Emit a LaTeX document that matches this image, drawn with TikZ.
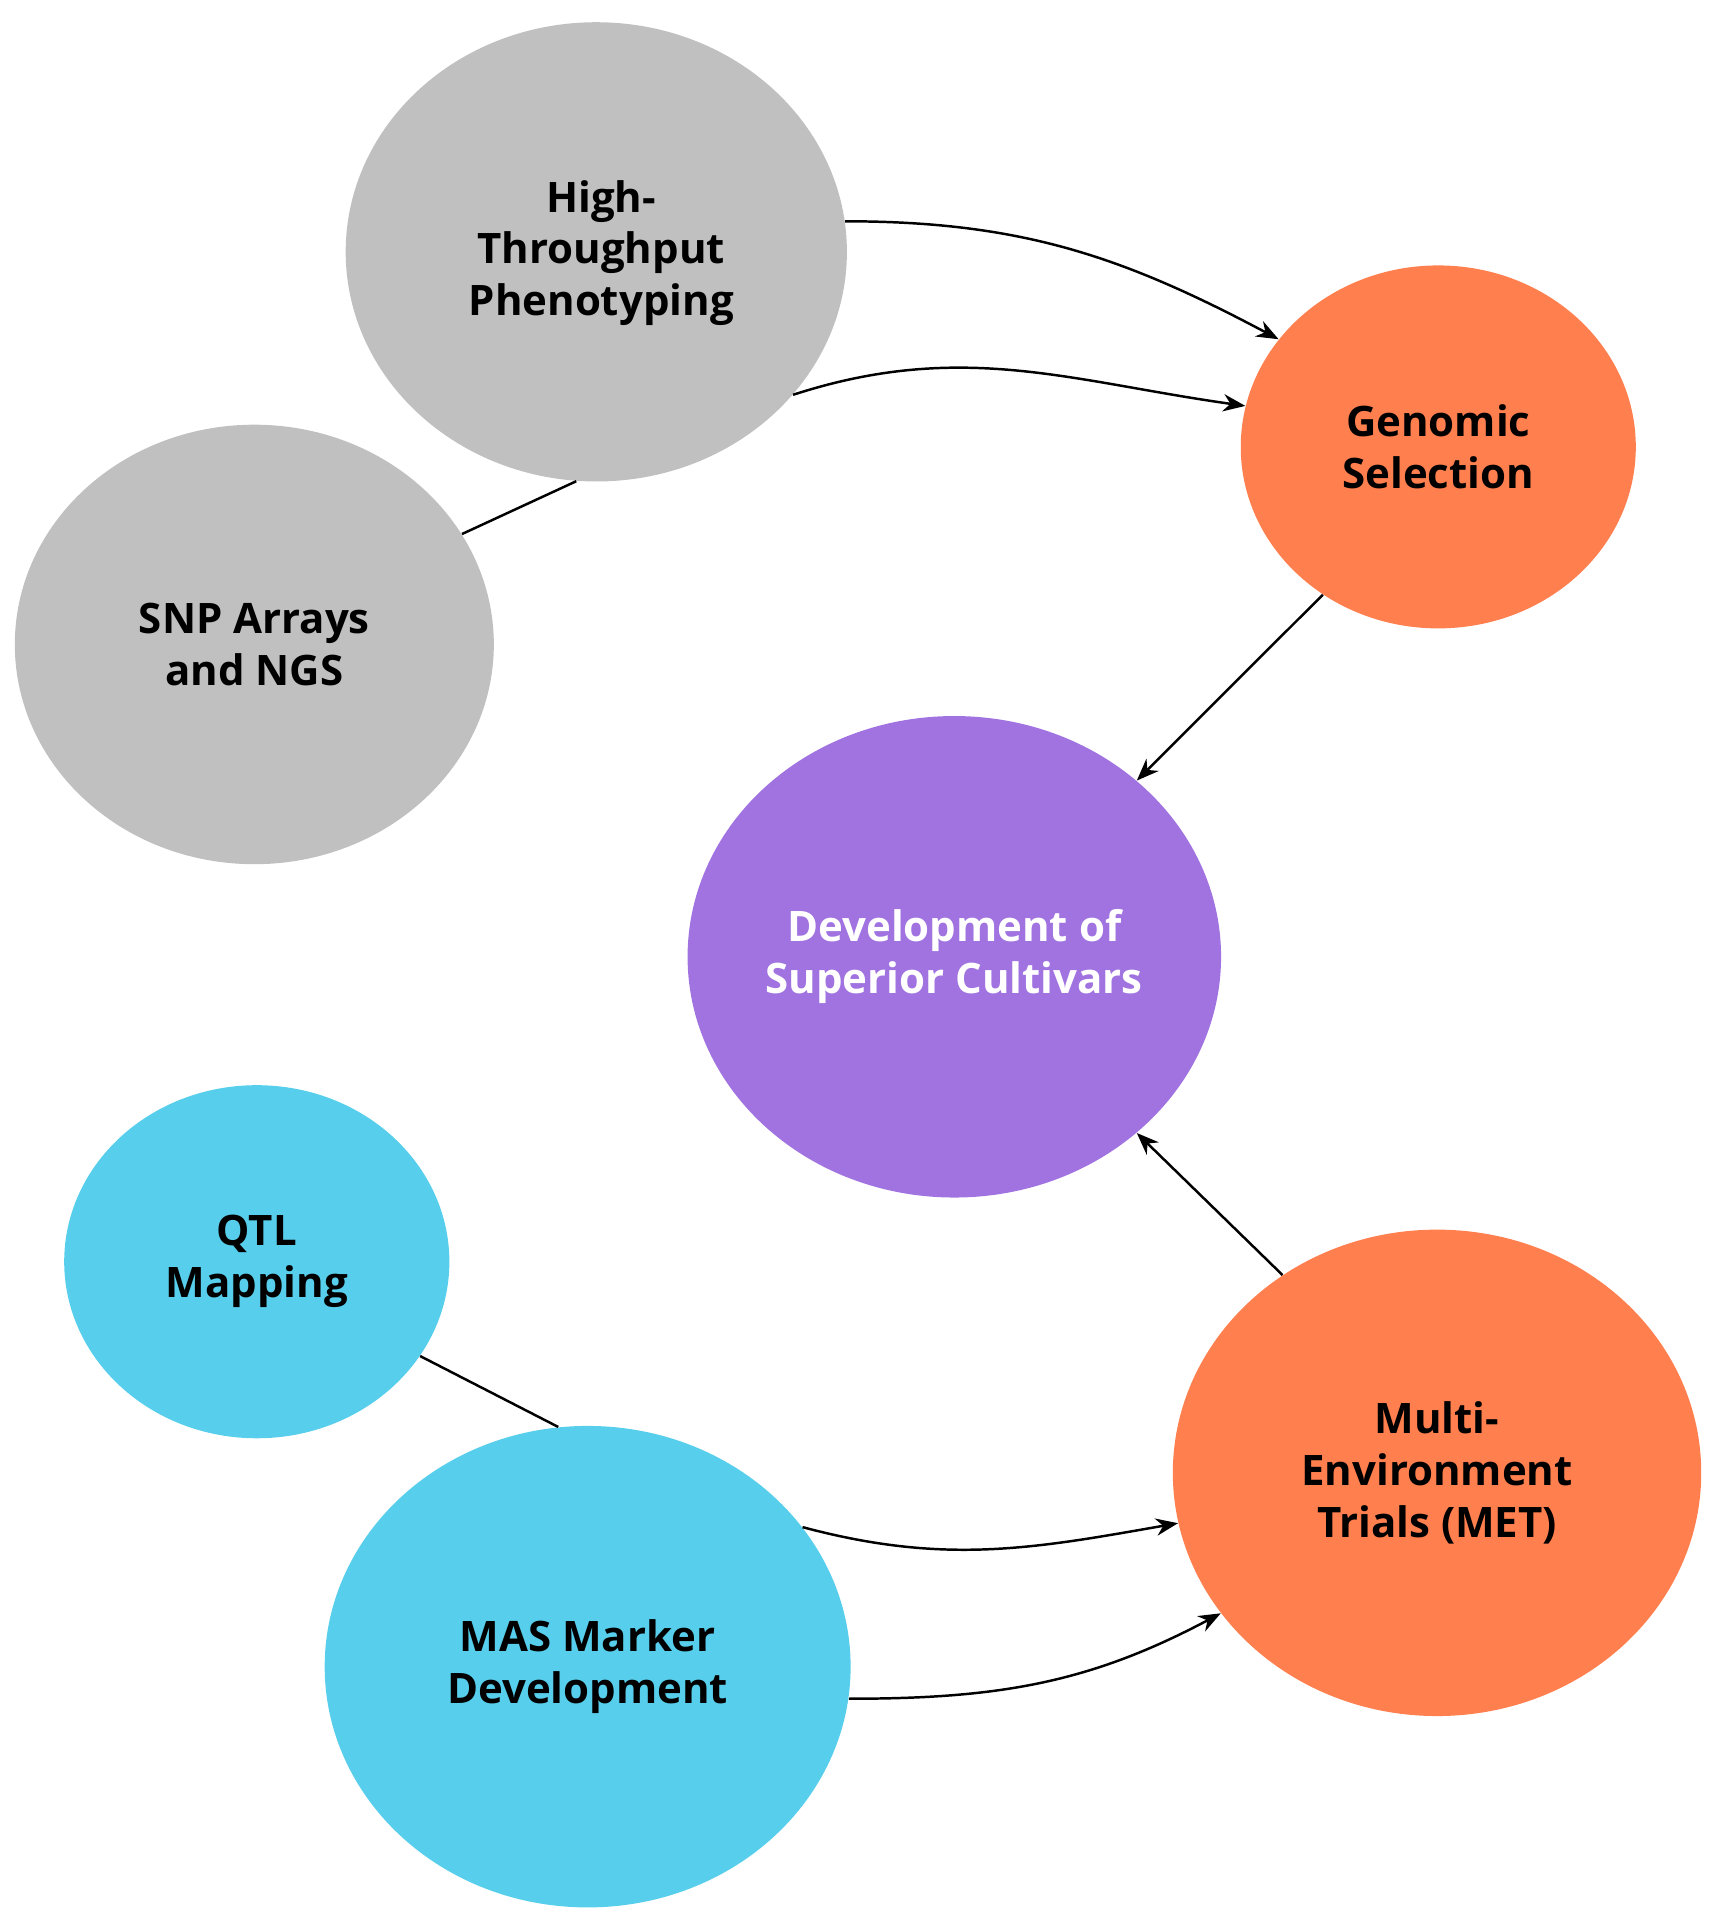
\documentclass[tikz,border=0pt]{standalone}
\usepackage{fontspec}
\setmainfont{Open Sans}
\usetikzlibrary{shapes.geometric,arrows.meta}
\definecolor{cgray}{HTML}{C0C0C0}
\definecolor{corange}{HTML}{FF7F4F}
\definecolor{cpurple}{HTML}{A073E0}
\definecolor{ccyan}{HTML}{57CEEB}
\begin{document}
\begin{tikzpicture}[x=0.5pt,y=0.5pt,
  blob/.style={ellipse,draw=none,inner sep=0pt,align=center,font=\fontsize{17}{21}\selectfont\bfseries},
  con/.style={line width=1pt,black},
  arr/.style={con,-{Stealth[length=9pt,width=7pt]}}]
\useasboundingbox (0,0) rectangle (1390,-1562.5);
\node[blob,fill=cgray,minimum width=203pt,minimum height=186pt] (htp) at (483,-204) {};
\node[font=\fontsize{17}{21}\selectfont\bfseries,align=center] at (487,-205) {High-\\Throughput\\Phenotyping};
\node[blob,fill=cgray,minimum width=194pt,minimum height=178pt] (snp) at (206,-522) {SNP Arrays\\and NGS};
\node[blob,fill=corange,minimum width=160pt,minimum height=147pt] (gs) at (1165,-362) {Genomic\\Selection};
\node[blob,fill=cpurple,text=white,minimum width=212pt,minimum height=195pt] (dev) at (773,-775) {Development of\\Superior Cultivars};
\node[blob,fill=ccyan,minimum width=156pt,minimum height=143pt] (qtl) at (208,-1022) {QTL\\Mapping};
\node[blob,fill=ccyan,minimum width=213pt,minimum height=195pt] (mas) at (476,-1350) {MAS Marker\\Development};
\node[blob,fill=corange,minimum width=214pt,minimum height=197pt] (met) at (1164,-1193) {Multi-\\Environment\\Trials (MET)};
\draw[arr] (htp.7) to[out=0,in=152] (gs.146);
\draw[arr] (htp.-36) to[out=18,in=172] (gs.168);
\draw[con] (snp.28) -- (htp.-95);
\draw[arr] (gs.-128) -- (dev.44);
\draw[arr] (met.128) -- (dev.-44);
\draw[con] (qtl.-30) -- (mas.97);
\draw[arr] (mas.33) to[out=-15,in=-170] (met.191);
\draw[arr] (mas.-7) to[out=0,in=-152] (met.213);
\end{tikzpicture}
\end{document}
